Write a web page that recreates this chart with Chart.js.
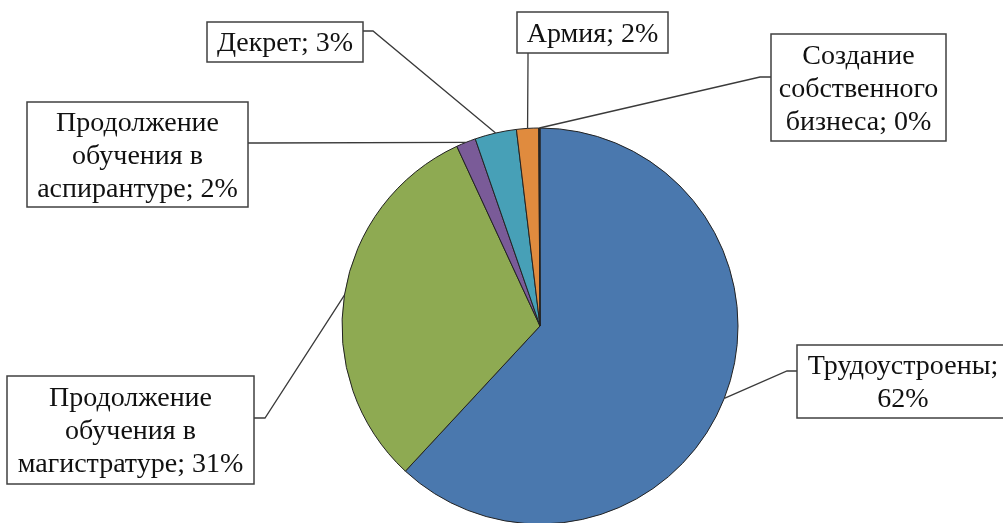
<!DOCTYPE html>
<html>
<head>
<meta charset="utf-8">
<script src="https://cdn.jsdelivr.net/npm/chart.js@4/dist/chart.umd.min.js"></script>
<style>
  html, body { margin: 0; padding: 0; background: #fff; }
  #wrap { width: 1003px; height: 523px; position: relative; }
</style>
</head>
<body>
<div id="wrap"><canvas id="pie" width="1003" height="523"></canvas></div>
<script>
// data (shares, %), clockwise from 12 o'clock
const categories = [
    'Трудоустроены',
    'Продолжение обучения в магистратуре',
    'Продолжение обучения в аспирантуре',
    'Декрет',
    'Армия',
    'Создание собственного бизнеса'
];
const shares = [61.9, 31.2, 1.6, 3.4, 1.8, 0.1];
const colors = ['#4a78ae', '#8eaa52', '#7a5b98', '#47a0b7', '#e08b3e', '#2a2a2a'];

// label boxes: rect, where the leader leaves the box, and the elbow point
const boxes = [
    { x: 797, y: 345, w: 220, h: 73, wrap: 198, ax: 797, ay: 371, ex: 787, ey: 371 },
    { x: 7, y: 376, w: 247, h: 108, wrap: 238, ax: 254, ay: 418, ex: 265, ey: 418 },
    { x: 27, y: 102, w: 221, h: 105, wrap: 214, ax: 248, ay: 143, ex: 258, ey: 143 },
    { x: 207, y: 22, w: 156, h: 40, wrap: 152, ax: 363, ay: 31, ex: 373, ey: 31 },
    { x: 517, y: 12, w: 151, h: 41, wrap: 148, ax: 528, ay: 53, ex: 528, ey: 60 },
    { x: 771, y: 34, w: 175, h: 107, wrap: 170, ax: 771, ay: 77, ex: 760, ey: 77 }
];

const FONT = '28px "Liberation Serif", "Times New Roman", serif';
const LINE_H = 33;

const wrapText = (ctx, text, maxW) => {
    const words = text.split(' ');
    const lines = [];
    let cur = '';
    words.forEach(w => {
        const test = cur ? cur + ' ' + w : w;
        if (ctx.measureText(test).width > maxW && cur) {
            lines.push(cur);
            cur = w;
        } else {
            cur = test;
        }
    });
    if (cur) lines.push(cur);
    return lines;
};

const calloutPlugin = {
    id: 'callouts',
    afterDatasetsDraw(chart) {
        const ctx = chart.ctx;
        const arcs = chart.getDatasetMeta(0).data;
        ctx.save();
        ctx.font = FONT;
        arcs.forEach((arc, i) => {
            const b = boxes[i];
            const mid = (arc.startAngle + arc.endAngle) / 2;
            const px = arc.x + Math.cos(mid) * arc.outerRadius;
            const py = arc.y + Math.sin(mid) * arc.outerRadius;

            // leader line
            ctx.strokeStyle = '#3a3a3a';
            ctx.lineWidth = 1.3;
            ctx.beginPath();
            ctx.moveTo(b.ax, b.ay);
            ctx.lineTo(b.ex, b.ey);
            ctx.lineTo(px, py);
            ctx.stroke();

            // box
            ctx.fillStyle = '#fff';
            ctx.fillRect(b.x, b.y, b.w, b.h);
            ctx.strokeStyle = '#404040';
            ctx.lineWidth = 1.5;
            ctx.strokeRect(b.x, b.y, b.w, b.h);

            // text
            const text = categories[i] + '; ' + Math.round(shares[i]) + '%';
            const lines = wrapText(ctx, text, b.wrap);
            ctx.fillStyle = '#111';
            ctx.textAlign = 'center';
            ctx.textBaseline = 'middle';
            const cx = b.x + Math.min(b.w, 1003 - b.x) / 2 + (i === 0 ? 3 : 0);
            const top = b.y + b.h / 2 - (lines.length - 1) * LINE_H / 2 + 2;
            lines.forEach((ln, k) => ctx.fillText(ln, cx, top + k * LINE_H));
        });
        ctx.restore();
    }
};

new Chart(document.getElementById('pie'), {
    type: 'pie',
    data: {
        labels: categories,
        datasets: [{
            data: shares,
            backgroundColor: colors,
            borderColor: '#222',
            borderWidth: 1
        }]
    },
    options: {
        responsive: false,
        animation: false,
        radius: 198,
        layout: { padding: { left: 277, right: 200, top: 129, bottom: 0 } },
        plugins: {
            legend: { display: false },
            tooltip: { enabled: false }
        }
    },
    plugins: [calloutPlugin]
});
</script>
</body>
</html>
